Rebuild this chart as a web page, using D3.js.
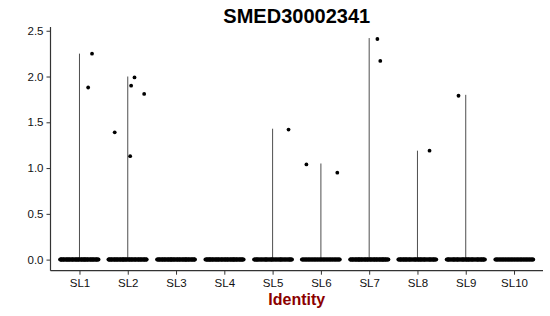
<!DOCTYPE html>
<html>
<head>
<meta charset="utf-8">
<script src="https://cdn.jsdelivr.net/npm/d3@7"></script>
<style>
  html, body { margin: 0; padding: 0; background: #fff; }
  svg { display: block; font-family: "Liberation Sans", Arial, sans-serif; }
</style>
</head>
<body>
<svg id="chart" width="550" height="316"></svg>
<script>
// ---- data ----
const categories = ["SL1", "SL2", "SL3", "SL4", "SL5", "SL6", "SL7", "SL8", "SL9", "SL10"];
const violinMax = [2.25, 2.00, 0, 0, 1.43, 1.05, 2.42, 1.19, 1.80, 0];
const zeroCounts = [70, 70, 70, 70, 60, 55, 70, 65, 65, 55];
const pointCluster = ["SL1", "SL1", "SL2", "SL2", "SL2", "SL2", "SL2", "SL5", "SL6", "SL6", "SL7", "SL7", "SL8", "SL9"];
const pointValue   = [2.25, 1.88, 1.90, 1.99, 1.81, 1.39, 1.13, 1.42, 1.04, 0.95, 2.41, 2.17, 1.19, 1.79];
const pointJitter  = [0.26, 0.18, 0.07, 0.14, 0.34, -0.27, 0.05, 0.33, -0.30, 0.34, 0.17, 0.23, 0.25, -0.15];
const yTicks = [0.0, 0.5, 1.0, 1.5, 2.0, 2.5];
const title = "SMED30002341";
const xTitle = "Identity";

// ---- layout ----
const svg = d3.select("#chart");
const panel = { left: 50.5, right: 543, top: 27, bottom: 270.7 };

const dataMax = d3.max(pointValue.concat(violinMax));
const dataMin = 0;
const pad = (dataMax - dataMin) * 0.05;
const y = d3.scaleLinear().domain([dataMin - pad, dataMax + pad]).range([panel.bottom, panel.top]);

const x = d3.scalePoint().domain(categories).range([panel.left, panel.right]).padding(0.6);
const step = x.step();

// violins (degenerate -> vertical lines)
svg.append("g").selectAll("line")
  .data(categories.map((c, i) => ({ c, v: violinMax[i] })).filter(d => d.v > 0))
  .join("line")
  .attr("x1", d => x(d.c)).attr("x2", d => x(d.c))
  .attr("y1", y(0)).attr("y2", d => y(d.v))
  .attr("stroke", "#3a3a3a").attr("stroke-width", 0.9);

// zero-valued cells with jitter (deterministic spread across jitter width)
const zeroPts = [];
categories.forEach((c, i) => {
  for (let k = 0; k < zeroCounts[i]; k++) {
    const u = ((k * 0.618034 + i * 0.37) % 1);
    zeroPts.push({ c, j: (u * 2 - 1) * 0.4, v: 0 });
  }
});
svg.append("g").selectAll("circle")
  .data(zeroPts)
  .join("circle")
  .attr("cx", d => x(d.c) + d.j * step)
  .attr("cy", d => y(d.v))
  .attr("r", 2)
  .attr("fill", "#000");

// non-zero cells
svg.append("g").selectAll("circle")
  .data(pointValue.map((v, i) => ({ c: pointCluster[i], v, j: pointJitter[i] })))
  .join("circle")
  .attr("cx", d => x(d.c) + d.j * step)
  .attr("cy", d => y(d.v))
  .attr("r", 1.9)
  .attr("fill", "#000");

// axes
const yAxis = d3.axisLeft(y).tickValues(yTicks).tickFormat(d3.format(".1f")).tickSize(4).tickPadding(3);
const gy = svg.append("g").attr("transform", `translate(${panel.left},0)`).call(yAxis);
gy.select(".domain").attr("d", `M0,${panel.top}V${panel.bottom}`);

const xAxis = d3.axisBottom(x).tickSize(4).tickPadding(4);
const gx = svg.append("g").attr("transform", `translate(0,${panel.bottom})`).call(xAxis);
gx.select(".domain").attr("d", `M${panel.left},0H${panel.right}`);

[gy, gx].forEach(g => {
  g.select(".domain").attr("stroke", "#333").attr("stroke-width", 1.2);
  g.selectAll(".tick line").attr("stroke", "#333").attr("stroke-width", 1);
  g.selectAll(".tick text").attr("fill", "#111").attr("font-size", "11.5px")
    .attr("font-family", "'Liberation Sans', Arial, sans-serif");
});

// title
svg.append("text")
  .attr("x", (panel.left + panel.right) / 2).attr("y", 22.5)
  .attr("text-anchor", "middle")
  .attr("font-size", "20px").attr("font-weight", "bold").attr("fill", "#000")
  .text(title);

// x title
svg.append("text")
  .attr("x", (panel.left + panel.right) / 2).attr("y", 305)
  .attr("text-anchor", "middle")
  .attr("font-size", "16px").attr("font-weight", "bold").attr("fill", "#8B0000")
  .text(xTitle);
</script>
</body>
</html>
